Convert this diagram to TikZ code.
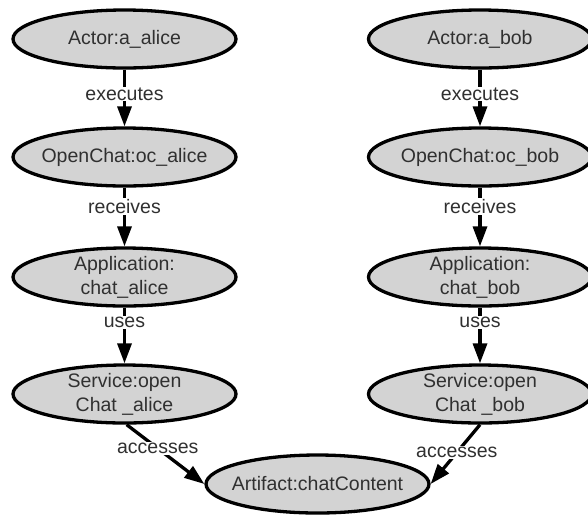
\documentclass[tikz,border=0pt]{standalone}
\usepackage{fontspec}
\setmainfont{Liberation Sans}
\usetikzlibrary{shapes.geometric,arrows.meta}
\definecolor{nodegray}{HTML}{D3D3D3}
\definecolor{textgray}{HTML}{303030}
\tikzset{
    entity/.style={ellipse, draw=black, line width=3.3pt, fill=nodegray, text=textgray,
        minimum width=223pt, minimum height=58pt, inner xsep=-14pt, inner ysep=-6pt, align=center,
        font=\fontsize{19.5}{24}\selectfont},
    rel/.style={line width=3.3pt, -{Triangle[length=20pt,width=14pt]}},
    lbl/.style={fill=white, text=textgray, inner sep=1pt, font=\fontsize{19.5}{22}\selectfont}
}

\begin{document}
\begin{tikzpicture}[x=1pt,y=-1pt]
\useasboundingbox (0,0) rectangle (588,515); % page
\node[entity] (aalice) at (124.5,39) {Actor:a\_alice}; % actor left
\node[entity] (ocalice) at (124.5,157) {OpenChat:oc\_alice}; % open chat left
\node[entity] (appalice) at (124.5,277) {Application:\\chat\_alice}; % application left
\node[entity] (srvalice) at (124.5,394) {Service:open\\Chat \_alice}; % service left
\node[entity] (abob) at (480,39) {Actor:a\_bob}; % actor right
\node[entity] (ocbob) at (480,157) {OpenChat:oc\_bob}; % open chat right
\node[entity] (appbob) at (480,277) {Application:\\chat\_bob}; % application right
\node[entity] (srvbob) at (480,394) {Service:open\\Chat \_bob}; % service right
\node[entity] (artifact) at (317.5,484) {Artifact:chatContent}; % shared artifact
\draw[rel] (aalice) -- (ocalice) node[lbl,pos=0.43]{executes}; % left chain
\draw[rel] (ocalice) -- (appalice) node[lbl,pos=0.32]{receives};
\draw[rel] (appalice) -- (srvalice) node[lbl,pos=0.27]{uses};
\draw[rel] (abob) -- (ocbob) node[lbl,pos=0.43]{executes}; % right chain
\draw[rel] (ocbob) -- (appbob) node[lbl,pos=0.32]{receives};
\draw[rel] (appbob) -- (srvbob) node[lbl,pos=0.27]{uses};
\draw[rel] (srvalice.-86) -- (artifact.west) node[lbl,pos=0.4]{accesses}; % left access
\draw[rel] (srvbob.south) -- (artifact.east) node[lbl,pos=0.47]{accesses}; % right access
\end{tikzpicture}
\end{document}
